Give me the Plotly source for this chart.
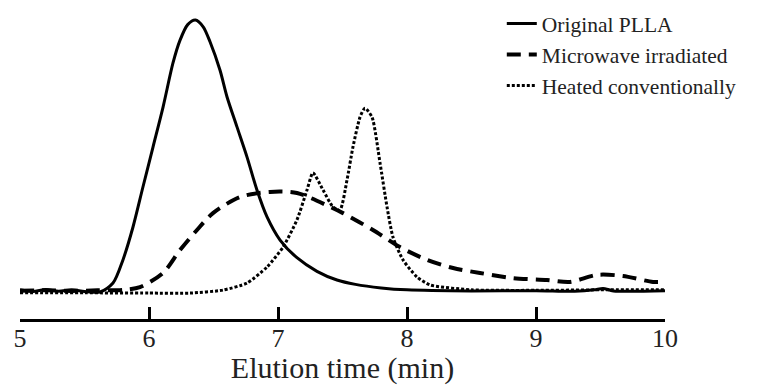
import plotly.graph_objects as go

# Original PLLA (solid)
plla_x = [5.00, 5.10, 5.20, 5.30, 5.40, 5.50, 5.62, 5.721, 5.798, 5.876, 5.953, 6.031, 6.109,
          6.186, 6.24, 6.30, 6.36, 6.42, 6.473, 6.55, 6.605, 6.682, 6.76, 6.837, 6.915, 7.016,
          7.147, 7.302, 7.457, 7.60, 7.80, 8.0, 8.5, 9.0, 9.3, 9.45, 9.52, 9.6, 10.0]
plla_y = [0.8, 0.2, 0.9, 0.3, 0.8, 0.2, 0.0, 3.3, 11.8, 23.9, 38.6, 53.3, 68.0,
          84.2, 92.5, 98.3, 100.0, 97.5, 92.0, 81.6, 71.7, 60.7, 49.6, 37.5, 27.6, 19.1,
          12.6, 7.6, 4.4, 2.8, 1.5, 0.8, 0.4, 0.5, 0.3, 0.8, 1.3, 0.4, 0.5]

# Microwave irradiated (dashed)
mw_x = [5.00, 5.20, 5.40, 5.60, 5.80, 5.93, 6.109, 6.24, 6.372, 6.496, 6.705, 6.938, 7.147,
        7.403, 7.504, 7.736, 7.946, 8.155, 8.357, 8.566, 8.822, 9.085, 9.264, 9.473, 9.674, 9.907, 10.0]
mw_y = [0.5, 0.6, 0.4, 0.6, 0.8, 1.8, 7.0, 15.4, 22.8, 29.0, 34.9, 36.8, 36.4,
        31.3, 29.0, 22.8, 16.5, 11.8, 8.8, 7.0, 5.1, 4.4, 3.7, 6.3, 5.9, 3.7, 3.7]

# Heated conventionally (dotted)
ht_x = [5.00, 5.50, 6.00, 6.318, 6.574, 6.76, 6.915, 7.039, 7.147, 7.225, 7.271, 7.349,
        7.426, 7.48, 7.535, 7.581, 7.636, 7.674, 7.729, 7.791, 7.845, 7.891, 7.969,
        8.078, 8.178, 8.5, 9.0, 9.5, 10.0]
ht_y = [-0.3, -0.3, -0.4, -0.4, 0.7, 3.3, 9.2, 16.5, 26.5, 37.5, 43.8, 37.5,
        31.3, 30.1, 41.2, 53.3, 64.3, 67.6, 64.3, 47.4, 31.3, 20.2, 11.8,
        5.5, 2.6, 0.8, 0.6, 0.8, 0.8]

x_ticks = [5, 6, 7, 8, 9, 10]

FONT = "Liberation Serif"

fig = go.Figure()
fig.add_trace(go.Scatter(x=plla_x, y=plla_y, mode="lines", name="Original PLLA",
                         line=dict(color="black", width=3, shape="spline", smoothing=0.8)))
fig.add_trace(go.Scatter(x=mw_x, y=mw_y, mode="lines", name="Microwave irradiated",
                         line=dict(color="black", width=4, dash="14px,8px", shape="spline", smoothing=0.8)))
fig.add_trace(go.Scatter(x=ht_x, y=ht_y, mode="lines", name="Heated conventionally",
                         line=dict(color="black", width=3, dash="3px,2px", shape="spline", smoothing=0.6)))

fig.update_layout(
    width=758, height=385,
    margin=dict(l=20, r=93, t=10, b=66, autoexpand=False),
    font=dict(family=FONT, color="#222"),
    paper_bgcolor="white", plot_bgcolor="white",
    showlegend=True,
    legend=dict(x=0.662, y=0.992, xref="container", yref="container",
                xanchor="left", yanchor="top",
                font=dict(family=FONT, size=21.5, color="#222"),
                bgcolor="rgba(0,0,0,0)", tracegroupgap=0),
    xaxis=dict(range=[5, 10], tickvals=x_ticks, ticktext=[str(v) for v in x_ticks],
               showgrid=False, zeroline=False, showline=True, linecolor="black", linewidth=2.5,
               ticks="inside", ticklen=12, tickwidth=2.5, tickcolor="black",
               ticklabelstandoff=-6,
               tickfont=dict(family=FONT, size=26, color="#222"),
               title=dict(text="Elution time (min)", font=dict(family=FONT, size=30, color="#222"),
                          standoff=8)),
    yaxis=dict(range=[-9.93, 103.68], visible=False),
)

fig.write_html("out.html")
